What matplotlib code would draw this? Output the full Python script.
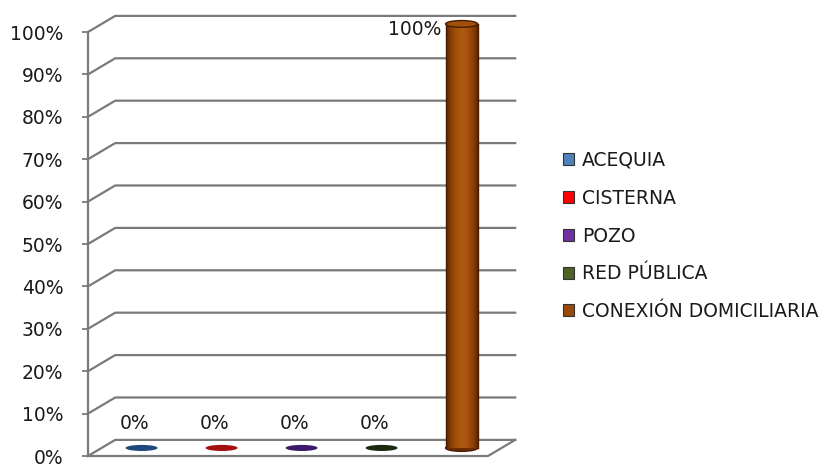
import numpy as np
import matplotlib
matplotlib.use("Agg")
import matplotlib.pyplot as plt
from matplotlib.patches import Ellipse, Rectangle, Patch
from matplotlib.colors import LinearSegmentedColormap
from matplotlib.ticker import PercentFormatter

categories = ["ACEQUIA", "CISTERNA", "POZO", "RED PÚBLICA", "CONEXIÓN DOMICILIARIA"]
values = [0, 0, 0, 0, 100]
value_labels = ["0%", "0%", "0%", "0%", "100%"]
yticks = list(range(0, 101, 10))
legend_colors = ["#4f81bd", "#ff0000", "#7030a0", "#4f6228", "#984807"]
disc_colors = ["#1f497d", "#a50f0f", "#3b1a6b", "#1b2a10", "#984807"]

GRID = "#7a7a7a"
TEXT = "#1a1a1a"
DX, DY = 0.34, 3.8   # depth of the back wall, data units
W, EH = 0.40, 1.6    # cylinder width and ellipse height

fig = plt.figure(figsize=(8.38, 4.68), dpi=100)
ax = fig.add_axes([88 / 838, 12 / 468, 400 / 838, 424 / 468])

# walls and floor
x0, x1 = -0.5, 4.5
for t in yticks:
    ax.plot([x0, x0 + DX, x1 + DX], [t, t + DY, t + DY], color=GRID, lw=1.6, clip_on=False, zorder=1)
ax.plot([x0, x1, x1 + DX], [0, 0, DY], color=GRID, lw=1.6, clip_on=False, zorder=1)

# cylinders
cmap = LinearSegmentedColormap.from_list("brown", ["#5e2600", "#8c4206", "#a4520c", "#b05c12", "#a4500c", "#8a4004", "#5a2400"])
grad = np.linspace(0, 1, 64).reshape(1, -1)
for i, v in enumerate(values):
    cx, base = i + DX / 2, DY / 2
    if v == 0:
        ax.add_patch(Ellipse((cx, base), W, EH * 0.9, facecolor=disc_colors[i], edgecolor="none", zorder=3))
        ax.text(cx - 0.09, v + base + 5.8, value_labels[i], ha="center", va="center", fontsize=13.5, color=TEXT)
        continue
    ax.add_patch(Ellipse((cx, base), W, EH, facecolor="#6a2c00", edgecolor="#4a1a00", lw=1, zorder=2, clip_on=False))
    im = ax.imshow(grad, cmap=cmap, aspect="auto", extent=[cx - W / 2, cx + W / 2, base, base + v], zorder=3, interpolation="bicubic")
    im.set_clip_path(Rectangle((cx - W / 2, base), W, v, transform=ax.transData))
    ax.plot([cx - W / 2, cx - W / 2], [base, base + v], color="#4a1a00", lw=1, zorder=4, clip_on=False)
    ax.plot([cx + W / 2, cx + W / 2], [base, base + v], color="#4a1a00", lw=1, zorder=4, clip_on=False)
    ax.add_patch(Ellipse((cx, base + v), W, EH, facecolor="#a0500c", edgecolor="#4a1a00", lw=1, zorder=5, clip_on=False))
    ax.text(cx - W / 2 - 0.05, v + base - 1.2, value_labels[i], ha="right", va="center", fontsize=13.5, color=TEXT)

ax.set_xlim(x0, x1)
ax.set_ylim(0, 100)
for s in ["top", "right", "bottom"]:
    ax.spines[s].set_visible(False)
ax.spines["left"].set_color(GRID)
ax.spines["left"].set_linewidth(1.6)
ax.set_xticks([])
ax.set_yticks(yticks)
ax.yaxis.set_major_formatter(PercentFormatter(decimals=0))
ax.tick_params(axis="y", length=4.3, width=1.3, color=GRID, pad=13.5, labelsize=13.5, labelcolor=TEXT)
ax.patch.set_visible(False)

handles = [Patch(facecolor=c, edgecolor="#333333", lw=0.8) for c in legend_colors]
fig.legend(handles, categories, loc="center left", bbox_to_anchor=(563 / 838, 1 - 236 / 468), frameon=False,
           borderpad=0, borderaxespad=0, handlelength=0.6, handleheight=0.6, handletextpad=0.4,
           labelspacing=1.0, fontsize=13.5, labelcolor=TEXT)

fig.savefig("out.png", dpi=100)
